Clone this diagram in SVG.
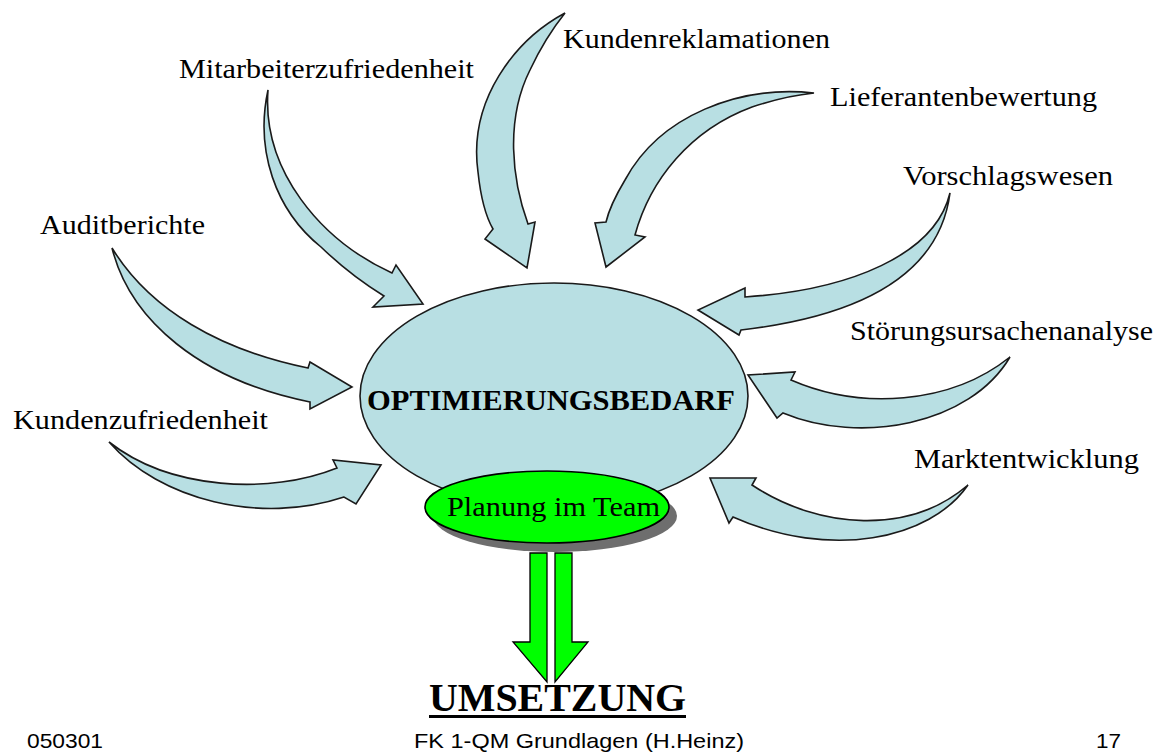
<svg xmlns="http://www.w3.org/2000/svg" width="1163" height="754" viewBox="0 0 1163 754">
<style>
.lbl{font-family:"Liberation Serif","Times New Roman",serif;font-size:28px;fill:#000}
.bold{font-family:"Liberation Serif","Times New Roman",serif;font-weight:bold;fill:#000}
.foot{font-family:"Liberation Sans",Arial,sans-serif;font-size:21px;fill:#000}
.carrow{fill:#B8DFE3;stroke:#1a1a1a;stroke-width:1.6;stroke-linejoin:miter}
.garrow{fill:#00FF00;stroke:#000;stroke-width:1.3}
</style>
<rect width="1163" height="754" fill="#fff"/>
<g id="connectors">
  <path id="a-mitarbeiter" class="carrow" d="M268,90 C255,150 275,210 321,247 Q350,275 384,296 L373,307 L423,304 L396,265 L392,273 C320,240 262,170 268,90 Z"/>
  <path id="a-kundenrekl" class="carrow" d="M565,13 C515,40 468,100 478,172 Q482,210 493,229 L485,239 L527,268 L535,222 L528,224 C512,180 505,120 530,70 Q545,38 565,13 Z"/>
  <path id="a-lieferanten" class="carrow" d="M814,93 C740,85 660,115 625,180 Q610,205 606,222 L595,223 L606,267 L645,237 L635,235 C650,180 690,130 752,107 Q785,96 814,93 Z"/>
  <path id="a-vorschlag" class="carrow" d="M950,193 C940,270 870,315 741,330 L739,335 L698,310 L745,288 L745,297 C850,290 935,255 950,193 Z"/>
  <path id="a-audit" class="carrow" d="M112,248 C130,320 200,380 310,402 L310,409 L352,387 L310,362 L308,368 C220,350 150,310 112,248 Z"/>
  <path id="a-kundenzuf" class="carrow" d="M109,442 C160,500 260,525 344,497 L356,504 L381,465 L333,460 L337,468 C270,495 170,490 109,442 Z"/>
  <path id="a-stoerung" class="carrow" d="M1010,357 C970,425 860,445 783,413 L777,418 L748,375 L795,372 L791,380 C860,410 950,405 1010,357 Z"/>
  <path id="a-markt" class="carrow" d="M968,485 C930,540 830,560 733,517 L729,523 L710,478 L756,478 L752,485 C820,530 910,535 968,485 Z"/>
  <path id="g-left" class="garrow" d="M530,553 L547,553 L547,682 L513,642 L530,642 Z"/>
  <path id="g-right" class="garrow" d="M555,553 L572,553 L572,642 L588,642 L555,682 Z"/>
</g>
<g id="node-optimierung">
  <ellipse cx="554" cy="396" rx="194" ry="113" fill="#B8DFE3" stroke="#1a1a1a" stroke-width="1.6"/>
  <text class="bold" x="367" y="410" font-size="30" textLength="368" lengthAdjust="spacingAndGlyphs">OPTIMIERUNGSBEDARF</text>
</g>
<g id="node-planung">
  <ellipse cx="555" cy="516" rx="122" ry="36" fill="#6e6e6e"/>
  <ellipse cx="547" cy="507" rx="122" ry="36" fill="#00FF00" stroke="#000" stroke-width="1.6"/>
  <text class="lbl" x="447" y="516" textLength="213" lengthAdjust="spacingAndGlyphs">Planung im Team</text>
</g>
<g id="node-umsetzung">
  <text class="bold" x="429" y="711" font-size="40" textLength="257" lengthAdjust="spacingAndGlyphs">UMSETZUNG</text>
  <rect x="429" y="715" width="257" height="3" fill="#000"/>
</g>
<g id="node-mitarbeiter"><text class="lbl" x="179" y="78" textLength="295" lengthAdjust="spacingAndGlyphs">Mitarbeiterzufriedenheit</text></g>
<g id="node-kundenrekl"><text class="lbl" x="563" y="48" textLength="267" lengthAdjust="spacingAndGlyphs">Kundenreklamationen</text></g>
<g id="node-lieferanten"><text class="lbl" x="830" y="106" textLength="267" lengthAdjust="spacingAndGlyphs">Lieferantenbewertung</text></g>
<g id="node-vorschlag"><text class="lbl" x="903" y="185" textLength="210" lengthAdjust="spacingAndGlyphs">Vorschlagswesen</text></g>
<g id="node-audit"><text class="lbl" x="40" y="234" textLength="165" lengthAdjust="spacingAndGlyphs">Auditberichte</text></g>
<g id="node-stoerung"><text class="lbl" x="850" y="340" textLength="303" lengthAdjust="spacingAndGlyphs">Störungsursachenanalyse</text></g>
<g id="node-kundenzuf"><text class="lbl" x="13" y="429" textLength="255" lengthAdjust="spacingAndGlyphs">Kundenzufriedenheit</text></g>
<g id="node-markt"><text class="lbl" x="914" y="468" textLength="225" lengthAdjust="spacingAndGlyphs">Marktentwicklung</text></g>
<g id="footer">
  <text class="foot" x="27" y="748" textLength="76" lengthAdjust="spacingAndGlyphs">050301</text>
  <text class="foot" x="414" y="748" textLength="330" lengthAdjust="spacingAndGlyphs">FK 1-QM Grundlagen (H.Heinz)</text>
  <text class="foot" x="1096" y="748" textLength="25" lengthAdjust="spacingAndGlyphs">17</text>
</g>
</svg>
